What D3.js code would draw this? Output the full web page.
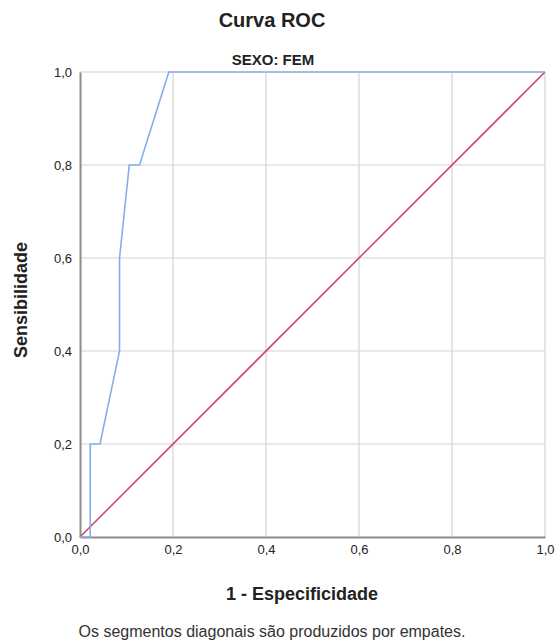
<!DOCTYPE html>
<html>
<head>
<meta charset="utf-8">
<script src="https://cdn.jsdelivr.net/npm/d3@7"></script>
<style>
  body { margin: 0; background: #fff; }
  text { font-family: "Liberation Sans", Arial, sans-serif; }
</style>
</head>
<body>
<svg width="556" height="643"></svg>
<script>
// ROC curve points (1 - especificidade, sensibilidade)
const rocX = [0, 0.022, 0.022, 0.043, 0.085, 0.085, 0.106, 0.128, 0.191, 1.0];
const rocY = [0, 0, 0.2, 0.2, 0.4, 0.6, 0.8, 0.8, 1.0, 1.0];
const refX = [0, 1];
const refY = [0, 1];
const ticks = [0, 0.2, 0.4, 0.6, 0.8, 1.0];
const tickLabels = ["0,0", "0,2", "0,4", "0,6", "0,8", "1,0"];

var svg = d3.select("svg"),
    margin = {top: 72, right: 11, bottom: 106, left: 80}
let width = +svg.attr("width") - margin.left - margin.right
let height = +svg.attr("height") - margin.top - margin.bottom

let x = d3.scaleLinear().domain([0, 1]).range([0, width])
let y = d3.scaleLinear().domain([0, 1]).range([height, 0])

let g = svg.append("g")
  .attr("transform", "translate(" + margin.left + "," + margin.top + ")")

// grid
g.append("g").selectAll("line.gx").data(ticks.slice(1)).enter().append("line")
  .attr("x1", d => x(d)).attr("x2", d => x(d))
  .attr("y1", 0).attr("y2", height)
  .attr("stroke", "#d4d4d4").attr("stroke-width", 1.2)
g.append("g").selectAll("line.gy").data(ticks.slice(1)).enter().append("line")
  .attr("x1", 0).attr("x2", width)
  .attr("y1", d => y(d)).attr("y2", d => y(d))
  .attr("stroke", "#d4d4d4").attr("stroke-width", 1.2)

// axes
let axisX = g.append("g")
  .attr("transform", "translate(0," + height + ")")
  .call(d3.axisBottom(x).tickValues(ticks).tickSize(0).tickPadding(8)
    .tickFormat((d, i) => tickLabels[i]))
let axisY = g.append("g")
  .call(d3.axisLeft(y).tickValues(ticks).tickSize(0).tickPadding(8)
    .tickFormat((d, i) => tickLabels[i]))
;[axisX, axisY].forEach(a => {
  a.select(".domain").attr("stroke", "#8c8c8c").attr("stroke-width", 2)
  a.selectAll("text").attr("font-size", 13).attr("fill", "#222")
    .attr("font-family", "Liberation Sans, Arial, sans-serif")
})

let line = d3.line().x(d => x(d[0])).y(d => y(d[1]))

// reference diagonal
g.append("path")
  .datum(refX.map((v, i) => [v, refY[i]]))
  .attr("d", line)
  .attr("fill", "none")
  .attr("stroke", "#d44868")
  .attr("stroke-width", 1.6)

// ROC curve
g.append("path")
  .datum(rocX.map((v, i) => [v, rocY[i]]))
  .attr("d", line)
  .attr("fill", "none")
  .attr("stroke", "#86aee6")
  .attr("stroke-width", 1.6)

// titles
svg.append("text").attr("x", 272).attr("y", 27)
  .attr("text-anchor", "middle").attr("font-size", 20).attr("font-weight", "bold")
  .attr("fill", "#222").text("Curva ROC")
svg.append("text").attr("x", 273).attr("y", 65)
  .attr("text-anchor", "middle").attr("font-size", 15).attr("font-weight", "bold")
  .attr("fill", "#222").text("SEXO: FEM")

svg.append("text").attr("x", 302).attr("y", 600)
  .attr("text-anchor", "middle").attr("font-size", 18).attr("font-weight", "bold")
  .attr("fill", "#222").text("1 - Especificidade")

svg.append("text")
  .attr("transform", "translate(27,300) rotate(-90)")
  .attr("text-anchor", "middle").attr("font-size", 18).attr("font-weight", "bold")
  .attr("fill", "#222").text("Sensibilidade")

svg.append("text").attr("x", 272).attr("y", 637)
  .attr("text-anchor", "middle").attr("font-size", 16)
  .attr("fill", "#333").text("Os segmentos diagonais são produzidos por empates.")
</script>
</body>
</html>
